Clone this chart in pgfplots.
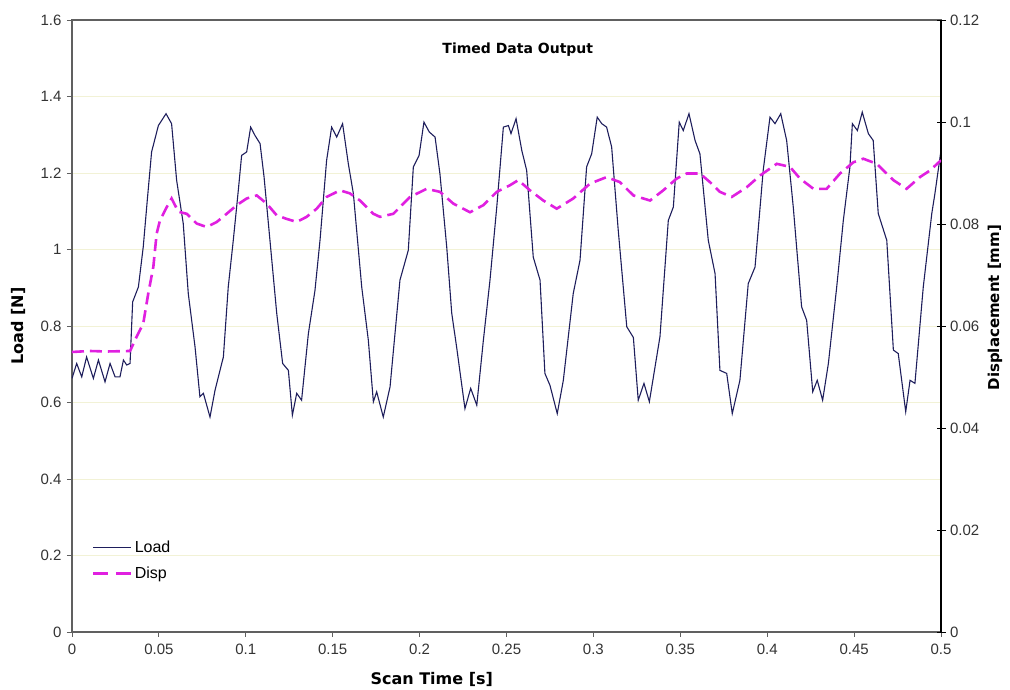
\documentclass[border=0pt]{standalone}
\usepackage{fontspec}
\setmainfont{Liberation Sans}
\newfontfamily\labfont{DejaVu Sans}
\usepackage{pgfplots}
\pgfplotsset{compat=1.18}
\definecolor{cLoad}{HTML}{1E1E5C}
\definecolor{cDisp}{HTML}{E020E0}
\definecolor{cGrid}{HTML}{F2F2D6}
\definecolor{cAxis}{HTML}{606060}

\pgfplotsset{
  chartbase/.style={
    scale only axis, width=869pt, height=612pt,
    xmin=0, xmax=0.5,
    scaled ticks=false,
    /pgf/number format/assume math mode=true,
    tick label style={font=\fontsize{15}{17}\selectfont, color=black!80},
    xticklabel style={/pgf/number format/fixed, /pgf/number format/precision=2},
    major tick length=5pt,
  },
  legend image code/.code={\draw[#1] (0pt,0pt) -- (38pt,0pt);},
  displeg/.style={legend image code/.code={\draw[##1, dash pattern=on 15pt off 8pt] (0pt,0pt) -- (38pt,0pt);}},
}

\begin{document}
\begin{tikzpicture}
% left axis: load
\begin{axis}[
  chartbase,
  ymin=0, ymax=1.6, ytick={0,0.2,...,1.6},
  xtick={0,0.05,...,0.5},
  xtick pos=bottom, ytick pos=left, tick align=outside,
  axis line style={cAxis, line width=1.1pt},
  every tick/.style={cAxis, line width=0.8pt},
  ymajorgrids, grid style={cGrid, line width=0.8pt},
  xticklabel style={yshift=-3pt},
  yticklabel style={xshift=-2pt},
  xlabel={Scan Time [s]}, ylabel={Load [N]},
  label style={font=\fontsize{16}{18}\selectfont\labfont\bfseries},
  xlabel style={at={(axis description cs:0.414,-0.078)}, anchor=center},
  ylabel style={at={(axis description cs:-0.062,0.5)}, anchor=center},
  title={Timed Data Output},
  title style={at={(axis description cs:0.513,0.941)}, anchor=center,
    font=\fontsize{14}{16}\selectfont\labfont\bfseries},
]
\addplot[cLoad, line width=1.1pt] coordinates {
(0.0000,0.663) (0.0027,0.702) (0.0056,0.667) (0.0084,0.719) (0.0123,0.663)
(0.0152,0.711) (0.0190,0.654) (0.0219,0.702) (0.0248,0.667) (0.0276,0.667)
(0.0296,0.711) (0.0315,0.698) (0.0334,0.702) (0.0349,0.863) (0.0382,0.902)
(0.0410,1.007) (0.0433,1.128) (0.0458,1.255) (0.0497,1.324) (0.0541,1.355)
(0.0573,1.329) (0.0602,1.181) (0.0640,1.068) (0.0669,0.885) (0.0708,0.745)
(0.0736,0.615) (0.0756,0.624) (0.0794,0.562) (0.0823,0.632) (0.0871,0.719)
(0.0899,0.902) (0.0928,1.024) (0.0957,1.155) (0.0976,1.246) (0.1005,1.255)
(0.1028,1.320) (0.1053,1.298) (0.1082,1.277) (0.1105,1.190) (0.1139,1.024)
(0.1178,0.833) (0.1212,0.702) (0.1245,0.684) (0.1268,0.567) (0.1293,0.624)
(0.1321,0.606) (0.1360,0.780) (0.1398,0.893) (0.1427,1.024) (0.1465,1.233)
(0.1494,1.320) (0.1523,1.294) (0.1557,1.329) (0.1590,1.224) (0.1619,1.146)
(0.1667,0.902) (0.1705,0.763) (0.1734,0.602) (0.1753,0.628) (0.1791,0.562)
(0.1830,0.641) (0.1887,0.920) (0.1935,0.998) (0.1964,1.216) (0.1997,1.246)
(0.2025,1.333) (0.2056,1.307) (0.2089,1.294) (0.2117,1.198) (0.2156,1.007)
(0.2185,0.833) (0.2213,0.745) (0.2261,0.584) (0.2294,0.637) (0.2329,0.593)
(0.2367,0.763) (0.2405,0.920) (0.2444,1.111) (0.2482,1.320) (0.2511,1.324)
(0.2526,1.303) (0.2555,1.342) (0.2588,1.259) (0.2616,1.207) (0.2654,0.980)
(0.2693,0.920) (0.2721,0.676) (0.2750,0.645) (0.2792,0.571) (0.2827,0.658)
(0.2884,0.885) (0.2923,0.972) (0.2961,1.216) (0.2990,1.250) (0.3022,1.346)
(0.3048,1.329) (0.3076,1.320) (0.3105,1.268) (0.3143,1.050) (0.3192,0.798)
(0.3230,0.770) (0.3258,0.606) (0.3291,0.650) (0.3322,0.602) (0.3383,0.772)
(0.3431,1.076) (0.3460,1.111) (0.3494,1.333) (0.3517,1.311) (0.3550,1.355)
(0.3585,1.285) (0.3613,1.250) (0.3661,1.024) (0.3700,0.937) (0.3728,0.684)
(0.3767,0.676) (0.3799,0.571) (0.3843,0.658) (0.3891,0.911) (0.3930,0.954)
(0.3977,1.207) (0.4016,1.346) (0.4045,1.329) (0.4078,1.355) (0.4112,1.285)
(0.4150,1.111) (0.4198,0.850) (0.4227,0.815) (0.4262,0.628) (0.4288,0.658)
(0.4319,0.606) (0.4352,0.702) (0.4400,0.902) (0.4438,1.076) (0.4476,1.216)
(0.4490,1.329) (0.4519,1.311) (0.4547,1.359) (0.4582,1.303) (0.4610,1.285)
(0.4639,1.094) (0.4688,1.024) (0.4726,0.737) (0.4754,0.728) (0.4797,0.576)
(0.4822,0.658) (0.4850,0.650) (0.4898,0.902) (0.4947,1.094) (0.4965,1.146)
(0.5000,1.259)
};
\end{axis}
% right axis: displacement
\begin{axis}[
  chartbase,
  ymin=0, ymax=0.12, ytick={0,0.02,...,0.12},
  axis x line=none, axis y line*=right,
  tick align=center, major tick length=9pt,
  axis line style={black, line width=1.1pt, -},
  every tick/.style={black, line width=0.8pt},
  yticklabel style={/pgf/number format/fixed, /pgf/number format/precision=2, xshift=1pt},
  ylabel={Displacement [mm]},
  ylabel style={font=\fontsize{15}{17}\selectfont\labfont\bfseries,
    at={(axis description cs:1.062,0.53)}, anchor=center},
  legend style={draw=none, fill=none, at={(axis description cs:0.023,0.153)},
    anchor=north west, font=\fontsize{16}{18}\selectfont, row sep=9pt,
    inner sep=0pt, nodes={inner sep=2pt}},
  legend cell align=left,
]
\addlegendimage{cLoad, line width=0.9pt}
\addlegendentry{Load}
\addplot[cDisp, line width=2.6pt, dash pattern=on 12pt off 6pt, displeg]
  coordinates {
(0.0000,0.0549) (0.0100,0.0551) (0.0200,0.0550) (0.0334,0.0551) (0.0372,0.0579)
(0.0410,0.0605) (0.0439,0.0664) (0.0468,0.0716) (0.0487,0.0781) (0.0506,0.0807)
(0.0545,0.0833) (0.0573,0.0850) (0.0612,0.0824) (0.0660,0.0820) (0.0717,0.0801)
(0.0775,0.0794) (0.0833,0.0804) (0.0890,0.0820) (0.0948,0.0837) (0.1005,0.0850)
(0.1063,0.0856) (0.1120,0.0840) (0.1178,0.0817) (0.1235,0.0810) (0.1293,0.0804)
(0.1350,0.0814) (0.1408,0.0830) (0.1465,0.0853) (0.1542,0.0866) (0.1599,0.0860)
(0.1657,0.0846) (0.1734,0.0820) (0.1772,0.0814) (0.1849,0.0820) (0.1945,0.0853)
(0.2041,0.0869) (0.2117,0.0863) (0.2194,0.0840) (0.2290,0.0823) (0.2367,0.0837)
(0.2444,0.0863) (0.2520,0.0876) (0.2568,0.0886) (0.2635,0.0866) (0.2712,0.0846)
(0.2789,0.0830) (0.2884,0.0850) (0.2980,0.0879) (0.3076,0.0892) (0.3153,0.0882)
(0.3230,0.0856) (0.3326,0.0846) (0.3402,0.0866) (0.3479,0.0889) (0.3537,0.0899)
(0.3613,0.0899) (0.3671,0.0882) (0.3728,0.0863) (0.3796,0.0853) (0.3882,0.0872)
(0.3959,0.0895) (0.4055,0.0918) (0.4131,0.0912) (0.4189,0.0889) (0.4266,0.0869)
(0.4342,0.0869) (0.4419,0.0899) (0.4496,0.0921) (0.4553,0.0928) (0.4630,0.0918)
(0.4726,0.0886) (0.4802,0.0869) (0.4879,0.0892) (0.4937,0.0905) (0.5000,0.0925)
};
\addlegendentry{Disp}
\end{axis}
\pgfresetboundingbox
\path[use as bounding box] (-72pt,-58pt) rectangle (938pt,632pt);
\end{tikzpicture}
\end{document}
